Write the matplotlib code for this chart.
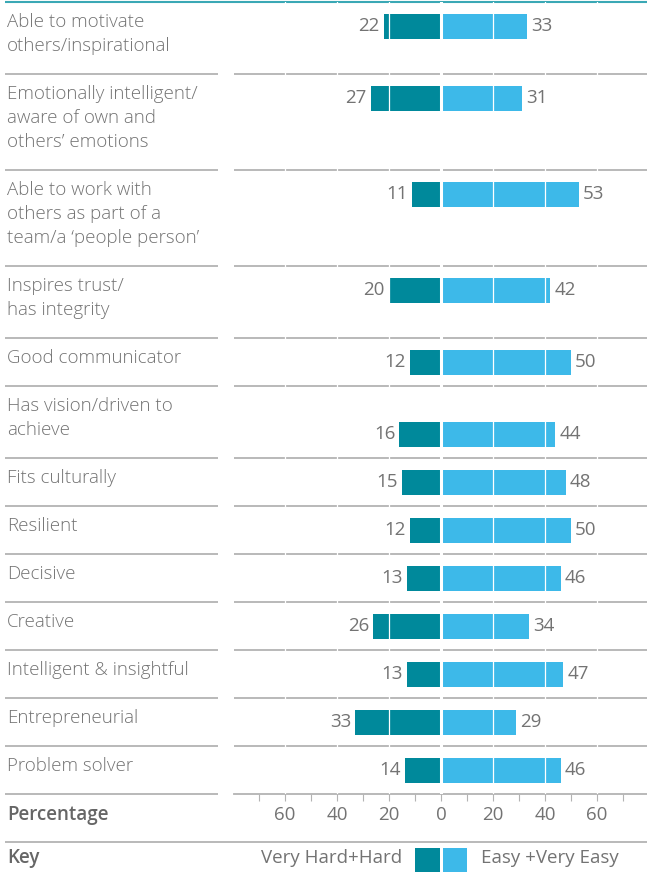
import matplotlib.pyplot as plt
from matplotlib.patches import Rectangle

plt.rcParams['font.family'] = ['Open Sans', 'DejaVu Sans']

cats = ["Able to motivate\nothers/inspirational",
        "Emotionally intelligent/\naware of own and\nothers\u2019 emotions",
        "Able to work with\nothers as part of a\nteam/a \u2018people person\u2019",
        "Inspires trust/\nhas integrity",
        "Good communicator",
        "Has vision/driven to\nachieve",
        "Fits culturally",
        "Resilient",
        "Decisive",
        "Creative",
        "Intelligent & insightful",
        "Entrepreneurial",
        "Problem solver"]
hard = [22, 27, 11, 20, 12, 16, 15, 12, 13, 26, 13, 33, 14]
easy = [33, 31, 53, 42, 50, 44, 48, 50, 46, 34, 47, 29, 46]

dark = '#00899B'
light = '#3DB9E9'
grey_txt = '#737373'
sep_col = '#b3b3b3'
fs = 13.5

W, H = 647, 876
fig = plt.figure(figsize=(W / 100, H / 100), dpi=100)

# overlay in pixel units for labels / separators
bg = fig.add_axes([0, 0, 1, 1])
bg.set_xlim(0, W)
bg.set_ylim(H, 0)
bg.axis('off')

# bar panel
x0, y0, y1 = 234, 2, 794
ax = fig.add_axes([x0 / W, (H - y1) / H, (W - x0) / W, (y1 - y0) / H])
ax.set_facecolor('none')
ax.set_xlim(-79.6, 79.2)
ax.set_ylim(y1, y0)

bg.plot([5, W], [2, 2], color='#3aa8b5', lw=1.5, solid_capstyle='butt')

top = 2
for i, lab in enumerate(cats):
    lines = lab.split('\n')
    for j, ln in enumerate(lines):
        bg.text(7, top + 20 + 24 * j, ln, va='center', ha='left',
                fontsize=fs, color=grey_txt, fontweight='light')
    bar_line = 1 if i == 5 else 0
    yc = top + 24 + 24 * bar_line
    ax.barh(yc, -hard[i], height=25, color=dark, zorder=2)
    ax.barh(yc, easy[i], height=25, color=light, zorder=2)
    ax.annotate(str(hard[i]), (-hard[i], yc), xytext=(-3, 0),
                textcoords='offset points', ha='right', va='center',
                fontsize=fs, color=grey_txt, zorder=5)
    ax.annotate(str(easy[i]), (easy[i], yc), xytext=(3, 0),
                textcoords='offset points', ha='left', va='center',
                fontsize=fs, color=grey_txt, zorder=5)
    top += 24 * (len(lines) + 1)
    bg.plot([5, 218], [top, top], color=sep_col, lw=1.3, solid_capstyle='butt')
    if i < len(cats) - 1:
        bg.plot([234, W], [top, top], color=sep_col, lw=1.3, solid_capstyle='butt')

# white dividers through bars
for v in [-60, -40, -20, 20, 40, 60]:
    ax.axvline(v, color='white', lw=0.9, zorder=3)
ax.axvline(0, color='white', lw=2.2, zorder=3)

ticks = list(range(-70, 71, 10))
ax.set_xticks(ticks)
ax.set_xticklabels([str(abs(t)) if t % 20 == 0 else '' for t in ticks])
ax.tick_params(axis='x', direction='out', length=5, width=0.8, colors=sep_col,
               labelcolor=grey_txt, labelsize=fs, pad=4)
ax.set_yticks([])
for s in ['left', 'right', 'top']:
    ax.spines[s].set_visible(False)
ax.spines['bottom'].set_color(sep_col)
ax.spines['bottom'].set_linewidth(1.3)

bg.text(7, 815, 'Percentage', va='center', ha='left', fontsize=fs,
        color='#666666', fontweight='semibold')
bg.plot([5, W], [842, 842], color=sep_col, lw=1.3, solid_capstyle='butt')
bg.text(7, 858, 'Key', va='center', ha='left', fontsize=fs,
        color='#666666', fontweight='semibold')

bg.add_patch(Rectangle((415, 848), 25, 24, color=dark, lw=0))
bg.add_patch(Rectangle((443, 848), 24, 24, color=light, lw=0))
bg.text(402, 858, 'Very Hard+Hard', va='center', ha='right', fontsize=fs,
        color=grey_txt)
bg.text(481, 858, 'Easy +Very Easy', va='center', ha='left', fontsize=fs,
        color=grey_txt)

fig.savefig('out.png', dpi=100)
